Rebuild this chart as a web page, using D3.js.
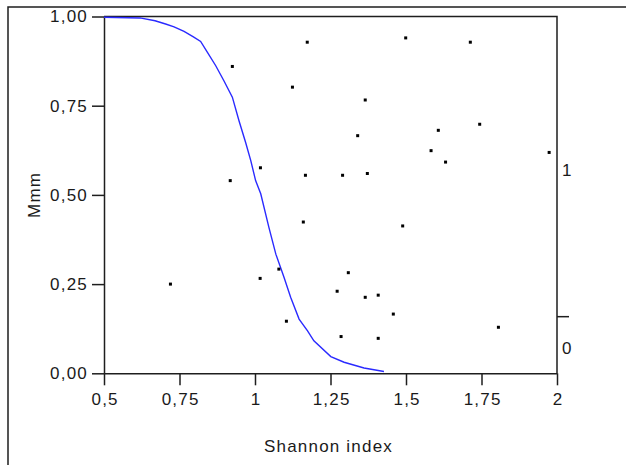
<!DOCTYPE html>
<html>
<head>
<meta charset="utf-8">
<script src="https://cdn.jsdelivr.net/npm/d3@7"></script>
<style>
  html, body { margin: 0; padding: 0; background: #fff; }
  svg { display: block; }
  text { font-family: "Liberation Sans", Arial, sans-serif; fill: #1a1a1a; letter-spacing: 1.2px; }
</style>
</head>
<body>
<svg id="chart" width="626" height="465"></svg>
<script>
// Observed samples: Shannon diversity index vs. Mmm
const shannon = [0.925, 0.918, 0.720, 1.173, 1.499, 1.124, 1.365, 1.340, 1.018, 1.167,
                 1.290, 1.372, 1.160, 1.489, 1.079, 1.017, 1.309, 1.272, 1.365, 1.408,
                 1.458, 1.104, 1.285, 1.408, 1.713, 1.744, 1.607, 1.583, 1.631, 1.974,
                 1.806];
const mmm =     [0.860, 0.540, 0.250, 0.928, 0.940, 0.802, 0.766, 0.666, 0.576, 0.555,
                 0.555, 0.560, 0.424, 0.413, 0.292, 0.266, 0.282, 0.230, 0.213, 0.219,
                 0.166, 0.146, 0.103, 0.098, 0.928, 0.698, 0.681, 0.624, 0.592, 0.619,
                 0.129];

// Fitted response curve
const curveX = [0.500, 0.619, 0.669, 0.704, 0.732, 0.765, 0.796, 0.820, 0.842, 0.870,
                0.897, 0.925, 0.947, 0.969, 0.986, 1.002, 1.019, 1.046, 1.069, 1.096,
                1.118, 1.146, 1.174, 1.195, 1.251, 1.295, 1.361, 1.427];
const curveY = [0.998, 0.996, 0.988, 0.979, 0.971, 0.958, 0.943, 0.930, 0.900, 0.862,
                0.820, 0.774, 0.708, 0.647, 0.596, 0.540, 0.503, 0.409, 0.334, 0.269,
                0.213, 0.152, 0.119, 0.091, 0.047, 0.031, 0.015, 0.005];

// Axis ticks
const xTicks = [0.5, 0.75, 1, 1.25, 1.5, 1.75, 2];
const yTicks = [0, 0.25, 0.5, 0.75, 1];
const rightLabels = ["0", "1"];
const rightMark = [0.176];

const fmt = v => String(v).replace(".", ",");
const fmtY = v => v.toFixed(2).replace(".", ",");

const svg = d3.select("#chart");
const plot = { left: 104, right: 557, top: 16.5, bottom: 373.3 };

const x = d3.scaleLinear().domain([0.5, 2]).range([plot.left, plot.right]);
const y = d3.scaleLinear().domain([0, 1]).range([plot.bottom, plot.top]);
const yRight = d3.scaleLinear().domain([0, 1]).range([348, 170]);

const ink = "#1e1e1e";
const FONT = "Liberation Sans, Arial, sans-serif";
const FS = 17;

// outer frame
svg.append("path")
  .attr("d", "M8,465 L8,7 L626,7")
  .attr("fill", "none").attr("stroke", ink).attr("stroke-width", 1.5);

// plot frame (top and right)
svg.append("path")
  .attr("d", `M${plot.left},${plot.top} L${plot.right},${plot.top} L${plot.right},${plot.bottom}`)
  .attr("fill", "none").attr("stroke", ink).attr("stroke-width", 1.5);

function styleAxis(g) {
  g.selectAll("path, line").attr("stroke", ink).attr("stroke-width", 1.5);
  g.selectAll("text").attr("font-size", FS).attr("fill", "#1a1a1a")
    .attr("font-family", FONT);
}

// left axis
svg.append("g")
  .attr("transform", `translate(${plot.left},0)`)
  .call(d3.axisLeft(y).tickValues(yTicks).tickFormat(fmtY).tickSize(12).tickSizeOuter(0).tickPadding(4))
  .call(styleAxis);

// bottom axis
svg.append("g")
  .attr("transform", `translate(0,${plot.bottom})`)
  .call(d3.axisBottom(x).tickValues(xTicks).tickFormat(fmt).tickSize(12).tickSizeOuter(0).tickPadding(8))
  .call(styleAxis)
  .call(g => g.selectAll(".tick text").attr("dx", "0.6px"));

// right axis: group labels and divider mark
svg.append("g")
  .attr("transform", `translate(${plot.right},0)`)
  .call(d3.axisRight(yRight).tickValues([0, 1]).tickFormat((d, i) => rightLabels[i]).tickSize(0).tickPadding(5))
  .call(styleAxis)
  .call(g => g.select(".domain").remove());

svg.append("g")
  .attr("transform", `translate(${plot.right},0)`)
  .selectAll("line").data(rightMark).join("line")
  .attr("x1", 0).attr("x2", 12)
  .attr("y1", d => yRight(d)).attr("y2", d => yRight(d))
  .attr("stroke", ink).attr("stroke-width", 1.5);

// fitted curve
const line = d3.line().x((d, i) => x(curveX[i])).y((d, i) => y(curveY[i]));
svg.append("path")
  .datum(curveX)
  .attr("d", line)
  .attr("fill", "none")
  .attr("stroke", "#2a2aff")
  .attr("stroke-width", 1.4);

// sample points
svg.append("g")
  .selectAll("rect").data(shannon).join("rect")
  .attr("x", (d) => x(d) - 1.5)
  .attr("y", (d, i) => y(mmm[i]) - 1.5)
  .attr("width", 3).attr("height", 3)
  .attr("fill", "#000");

// axis titles
svg.append("text")
  .attr("x", (plot.left + plot.right) / 2 - 2)
  .attr("y", 452)
  .attr("text-anchor", "middle")
  .attr("font-size", FS)
  .text("Shannon index");

svg.append("text")
  .attr("transform", `translate(40,${(plot.top + plot.bottom) / 2}) rotate(-90)`)
  .attr("text-anchor", "middle")
  .attr("font-size", FS)
  .text("Mmm");
</script>
</body>
</html>
